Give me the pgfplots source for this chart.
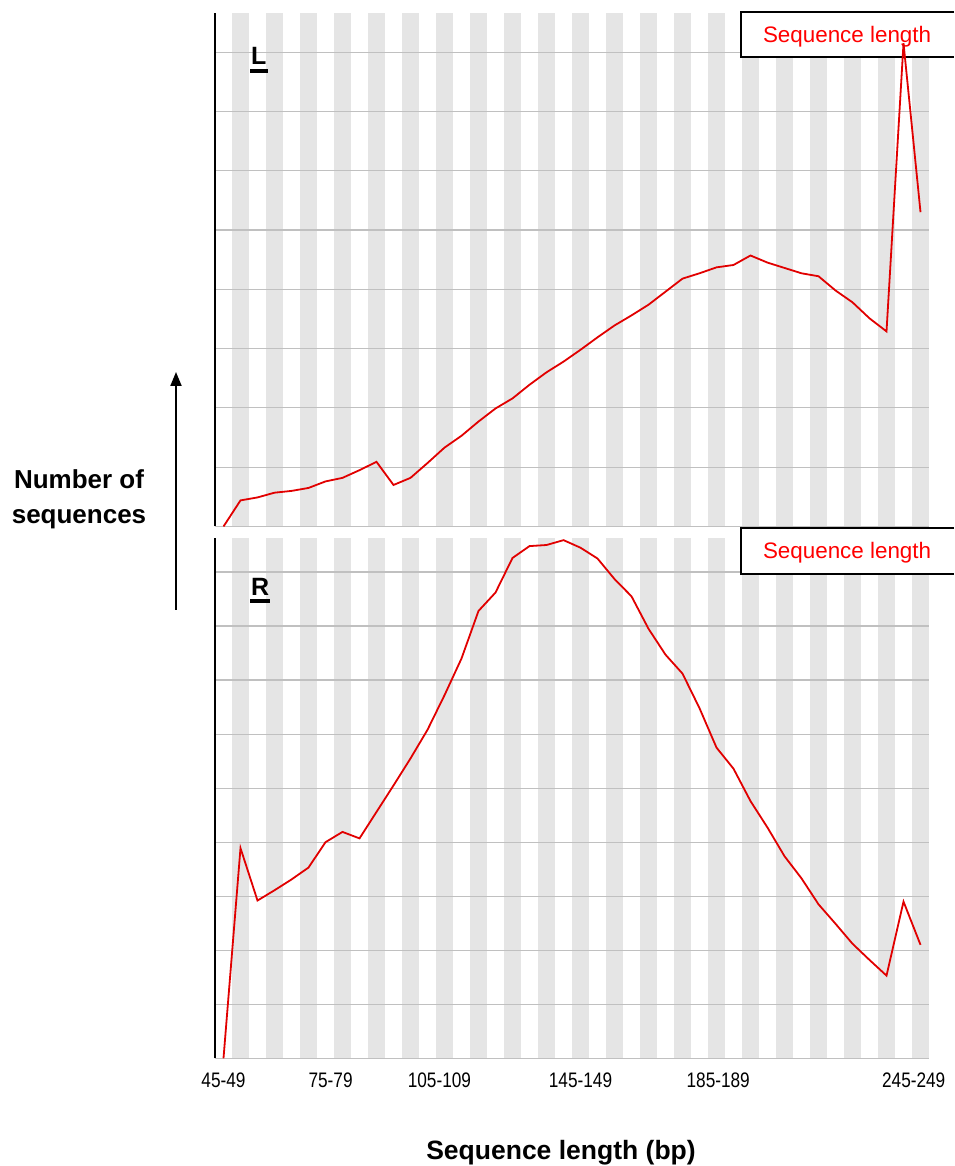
\documentclass[border=0pt]{standalone}
\usepackage{fontspec}
\setmainfont{Liberation Sans}
\newfontfamily\narrowfont[FakeStretch=0.82]{Liberation Sans}
\usepackage{pgfplots}
\usepackage{pgfplotstable}
\pgfplotsset{compat=1.18}
\usetikzlibrary{arrows.meta}
\definecolor{stripe}{RGB}{229,229,229}
\definecolor{gridc}{RGB}{192,192,192}
\definecolor{linec}{RGB}{225,0,0}

\pgfplotstableread{
i v
0 0
1 0.44
2 0.49
3 0.57
4 0.60
5 0.65
6 0.76
7 0.82
8 0.95
9 1.09
10 0.70
11 0.82
12 1.07
13 1.33
14 1.53
15 1.77
16 1.99
17 2.16
18 2.39
19 2.60
20 2.78
21 2.98
22 3.19
23 3.39
24 3.56
25 3.74
26 3.96
27 4.18
28 4.27
29 4.37
30 4.41
31 4.57
32 4.45
33 4.36
34 4.27
35 4.22
36 3.98
37 3.78
38 3.51
39 3.29
40 8.15
41 5.30
}\Ldata

\pgfplotstableread{
i v
0 0
1 3.89
2 2.92
3 3.11
4 3.31
5 3.53
6 4.00
7 4.19
8 4.07
9 4.56
10 5.05
11 5.55
12 6.08
13 6.72
14 7.40
15 8.28
16 8.62
17 9.26
18 9.48
19 9.50
20 9.59
21 9.45
22 9.25
23 8.87
24 8.55
25 7.95
26 7.47
27 7.12
28 6.48
29 5.75
30 5.36
31 4.76
32 4.27
33 3.74
34 3.33
35 2.85
36 2.49
37 2.12
38 1.82
39 1.53
40 2.90
41 2.10
}\Rdata

\pgfplotsset{
  panel/.style={
    scale only axis, width=714bp, anchor=south west,
    xmin=-0.5, xmax=41.5, ymin=0,
    set layers, clip mode=individual,
    axis x line*=bottom, axis y line*=left,
    x axis line style={draw=gridc, line width=1.2bp},
    y axis line style={draw=black, line width=1.2bp},
    yticklabels={}, ymajorgrids,
    major grid style={draw=gridc, line width=1.2bp},
    major tick length=0pt,
  },
  dataline/.style={draw=linec, line width=1.8bp, mark=none},
}

\begin{document}
\begin{tikzpicture}[x=1bp,y=1bp]
\path (0,0) rectangle (954,1166);

% ---------- top panel (L) ----------
\begin{axis}[panel, at={(215bp,639.5bp)}, height=513.5bp, ymax=8.66,
  xtick=\empty, ytick={1,2,3,4,5,6,7,8}]
  \begin{pgfonlayer}{axis background}
  \pgfplotsinvokeforeach{1,3,5,7,9,11,13,15,17,19,21,23,25,27,29,31,33,35,37,39,41}{
    \fill[stripe] (axis cs:#1-0.5,0) rectangle (axis cs:#1+0.5,8.66);
  }
  \end{pgfonlayer}
  \begin{pgfonlayer}{pre main}
    \fill[white] (axis cs:30.44,8.68) rectangle (axis cs:42.97,7.92);
    \draw[black, line width=2bp] (axis cs:42.97,8.68) -- (axis cs:30.44,8.68) -- (axis cs:30.44,7.92) -- (axis cs:42.97,7.92);
    \node[text=red, font=\fontsize{22.4bp}{25bp}\selectfont] at (axis cs:36.68,8.26) {Sequence length};
  \end{pgfonlayer}
  \addplot[dataline] table[x=i, y=v] {\Ldata};
\end{axis}

% ---------- bottom panel (R) ----------
\begin{axis}[panel, at={(215bp,107.7bp)}, height=520.3bp, ymax=9.63,
  ytick={1,2,3,4,5,6,7,8,9},
  xtick={0,6.3,12.7,21,29.1,40.6},
  xticklabels={45-49,75-79,105-109,145-149,185-189,245-249},
  xticklabel style={font=\narrowfont\fontsize{21bp}{24bp}\selectfont, anchor=north, inner sep=0pt, yshift=-14bp}]
  \begin{pgfonlayer}{axis background}
  \pgfplotsinvokeforeach{1,3,5,7,9,11,13,15,17,19,21,23,25,27,29,31,33,35,37,39,41}{
    \fill[stripe] (axis cs:#1-0.5,0) rectangle (axis cs:#1+0.5,9.63);
  }
  \end{pgfonlayer}
  \begin{pgfonlayer}{pre main}
    \fill[white] (axis cs:30.44,9.81) rectangle (axis cs:42.97,8.96);
    \draw[black, line width=2bp] (axis cs:42.97,9.81) -- (axis cs:30.44,9.81) -- (axis cs:30.44,8.96) -- (axis cs:42.97,8.96);
    \node[text=red, font=\fontsize{22.4bp}{25bp}\selectfont] at (axis cs:36.68,9.35) {Sequence length};
  \end{pgfonlayer}
  \addplot[dataline] table[x=i, y=v] {\Rdata};
\end{axis}

% ---------- panel letters ----------
\node[anchor=base west, inner sep=0pt, font=\bfseries\fontsize{25bp}{28bp}\selectfont] at (251,1101) {L};
\fill (250,1093) rectangle (268,1096.5);
\node[anchor=base west, inner sep=0pt, font=\bfseries\fontsize{25bp}{28bp}\selectfont] at (251,570) {R};
\fill (250,563) rectangle (270,566.5);

% ---------- axis descriptions ----------
\node[align=center, inner sep=0pt, font=\bfseries\fontsize{26bp}{35bp}\selectfont] at (79,667) {Number of\\sequences};
\draw[line width=2bp, -{Triangle[width=11bp,length=14bp]}] (176,556) -- (176,794);
\node[inner sep=0pt, font=\bfseries\fontsize{26.5bp}{32bp}\selectfont] at (561,13) {Sequence length (bp)};
\end{tikzpicture}
\end{document}
